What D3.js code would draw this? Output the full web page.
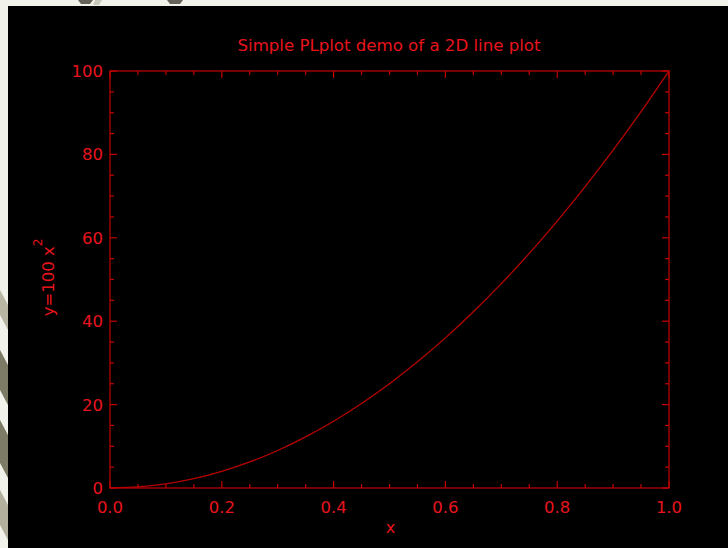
<!DOCTYPE html>
<html><head><meta charset="utf-8">
<script src="https://cdn.jsdelivr.net/npm/d3@7"></script>
<style>html,body{margin:0;padding:0;background:#f1f2ea;}svg{display:block;}</style>
</head><body>
<svg id="c" width="728" height="548"></svg>
<script>
// Data
const xs = [0,0.05,0.1,0.15,0.2,0.25,0.3,0.35,0.4,0.45,0.5,0.55,0.6,0.65,0.7,0.75,0.8,0.85,0.9,0.95,1.0];
const ys = [0,0.25,1,2.25,4,6.25,9,12.25,16,20.25,25,30.25,36,42.25,49,56.25,64,72.25,81,90.25,100];
const xTickLabels = ["0.0","0.2","0.4","0.6","0.8","1.0"];
const yTickLabels = ["0","20","40","60","80","100"];
const titleText = "Simple PLplot demo of a 2D line plot";

const svg = d3.select("#c");
const font = "DejaVu Sans, sans-serif";
const textCol = "#e8141c";
const lineCol = "#c40000";

// decorative background on the edges
const bg = svg.append("g");
bg.append("polygon").attr("points","0,290 8,305 8,330 0,315").attr("fill","#b9b7a4");
bg.append("polygon").attr("points","0,350 8,365 8,405 0,390").attr("fill","#7d7a66");
bg.append("polygon").attr("points","0,420 8,435 8,478 0,463").attr("fill","#7d7a66");
bg.append("polygon").attr("points","0,490 8,505 8,540 0,525").attr("fill","#b3b19e");
bg.append("polygon").attr("points","78,0 93,0 90,4 81,4").attr("fill","#66645a");
bg.append("polygon").attr("points","95,0 102,0 99,5 93,5").attr("fill","#c9c8bd");
bg.append("polygon").attr("points","167,0 183,0 180,4 170,4").attr("fill","#66645a");

svg.append("rect").attr("x",8).attr("y",6).attr("width",720).attr("height",542).attr("fill","#000");

const L=110, R=669, T=71, B=488;
const x = d3.scaleLinear().domain([0,1]).range([L,R]);
const y = d3.scaleLinear().domain([0,100]).range([B,T]);

const g = svg.append("g");
// box
g.append("rect").attr("x",L).attr("y",T).attr("width",R-L).attr("height",B-T)
  .attr("fill","none").attr("stroke",lineCol).attr("stroke-width",1.2);

const xMinor = d3.range(0,1.0001,0.05);
const yMinor = d3.range(0,100.001,5);
const xMajor = xTickLabels.map(Number);
const yMajor = yTickLabels.map(Number);
const isMajX = v => xMajor.some(m=>Math.abs(m-v)<1e-6);
const isMajY = v => yMajor.some(m=>Math.abs(m-v)<1e-6);

xMinor.forEach(v=>{
  const len = isMajX(v)?7:4;
  g.append("line").attr("x1",x(v)).attr("x2",x(v)).attr("y1",B).attr("y2",B-len).attr("stroke",lineCol).attr("stroke-width",1.2);
  g.append("line").attr("x1",x(v)).attr("x2",x(v)).attr("y1",T).attr("y2",T+len).attr("stroke",lineCol).attr("stroke-width",1.2);
});
yMinor.forEach(v=>{
  const len = isMajY(v)?7:4;
  g.append("line").attr("y1",y(v)).attr("y2",y(v)).attr("x1",L).attr("x2",L+len).attr("stroke",lineCol).attr("stroke-width",1.2);
  g.append("line").attr("y1",y(v)).attr("y2",y(v)).attr("x1",R).attr("x2",R-len).attr("stroke",lineCol).attr("stroke-width",1.2);
});

xTickLabels.forEach(t=>{
  g.append("text").attr("x",x(+t)).attr("y",B+25).attr("text-anchor","middle")
   .attr("font-family",font).attr("font-size",16.5).attr("fill",textCol).text(t);
});
yTickLabels.forEach(t=>{
  g.append("text").attr("x",L-7).attr("y",y(+t)+6).attr("text-anchor","end")
   .attr("font-family",font).attr("font-size",16.5).attr("fill",textCol).text(t);
});

// curve
const pts = xs.map((v,i)=>[v,ys[i]]);
g.append("path").datum(pts)
  .attr("d", d3.line().x(d=>x(d[0])).y(d=>y(d[1])).curve(d3.curveMonotoneX))
  .attr("fill","none").attr("stroke","#b80000").attr("stroke-width",1.3);

// title
svg.append("text").attr("x",389).attr("y",51).attr("text-anchor","middle")
  .attr("font-family",font).attr("font-size",16.6).attr("fill",textCol).text(titleText);
// x label
svg.append("text").attr("x",390.5).attr("y",533).attr("text-anchor","middle")
  .attr("font-family",font).attr("font-size",16).attr("fill",textCol).text("x");
// y label
const yl = svg.append("text").attr("transform","translate(54,277.5) rotate(-90)").attr("text-anchor","middle")
  .attr("font-family",font).attr("font-size",16.5).attr("fill",textCol);
yl.append("tspan").text("y=100 x");
yl.append("tspan").attr("dy",-12).attr("font-size",12).text("2");
</script>
</body></html>
